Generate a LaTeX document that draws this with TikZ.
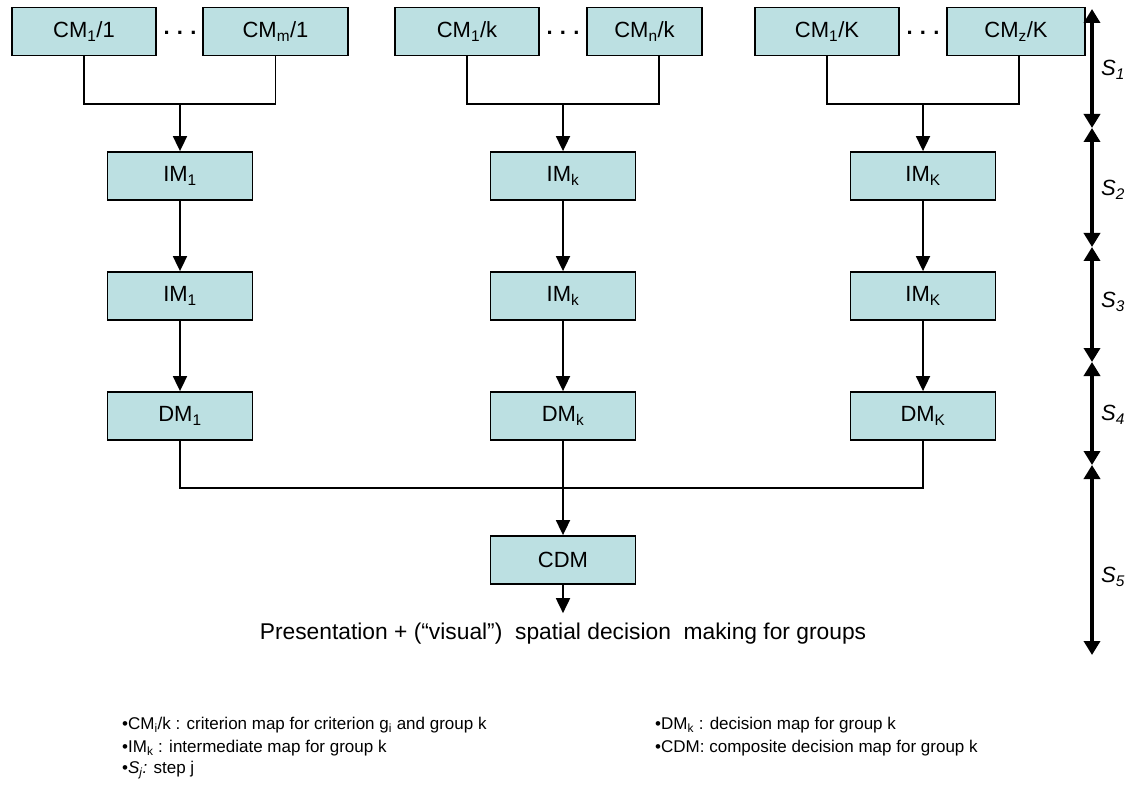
\documentclass[tikz,border=0pt]{standalone}
\usepackage{fontspec}
\setmainfont{Liberation Sans}
\usetikzlibrary{arrows.meta,calc}
\definecolor{boxfill}{RGB}{188,224,226}
\begin{document}
\begin{tikzpicture}[x=1pt,y=-1pt,
  mapbox/.style={draw=black,fill=boxfill,line width=1.8pt,inner sep=0pt,minimum height=48pt,font=\fontsize{22}{26}\selectfont},
  conn/.style={line width=1.8pt},
  flow/.style={line width=1.8pt,-{Triangle[width=14pt,length=15pt]}},
  stepar/.style={line width=4.5pt,{Triangle[width=16pt,length=14pt]}-{Triangle[width=16pt,length=14pt]}},
  dots/.style={font=\fontsize{22}{26}\selectfont\bfseries,inner sep=0pt},
  steplbl/.style={anchor=west,font=\fontsize{22}{26}\selectfont\itshape,inner sep=0pt},
  legend/.style={anchor=west,font=\fontsize{17}{20}\selectfont,inner sep=0pt}
]
\useasboundingbox (0,0) rectangle (1126,791);

% top row
\node[mapbox,minimum width=144pt] (c11) at (84,31.5) {CM\textsubscript{1}/1};
\node[mapbox,minimum width=145pt] (c1m) at (275.5,31.5) {CM\textsubscript{m}/1};
\node[mapbox,minimum width=144pt] (ck1) at (467,31.5) {CM\textsubscript{1}/k};
\node[mapbox,minimum width=115pt] (ckn) at (644.5,31.5) {CM\textsubscript{n}/k};
\node[mapbox,minimum width=144pt] (cK1) at (827,31.5) {CM\textsubscript{1}/K};
\node[mapbox,minimum width=138pt] (cKz) at (1016,31.5) {CM\textsubscript{z}/K};
\node[dots] (d1) at (180,33) {.\,\,.\,\,.};
\node[dots] (d2) at (563,33) {.\,\,.\,\,.};
\node[dots] (d3) at (923,33) {.\,\,.\,\,.};

% intermediate rows
\node[mapbox,minimum width=145pt] (im1a) at (180,176) {IM\textsubscript{1}};
\node[mapbox,minimum width=145pt] (imka) at (563,176) {IM\textsubscript{k}};
\node[mapbox,minimum width=145pt] (imKa) at (923,176) {IM\textsubscript{K}};
\node[mapbox,minimum width=145pt] (im1b) at (180,296) {IM\textsubscript{1}};
\node[mapbox,minimum width=145pt] (imkb) at (563,296) {IM\textsubscript{k}};
\node[mapbox,minimum width=145pt] (imKb) at (923,296) {IM\textsubscript{K}};
\node[mapbox,minimum width=145pt] (dm1) at (180,416) {DM\textsubscript{1}};
\node[mapbox,minimum width=145pt] (dmk) at (563,416) {DM\textsubscript{k}};
\node[mapbox,minimum width=145pt] (dmK) at (923,416) {DM\textsubscript{K}};
\node[mapbox,minimum width=145pt] (cdm) at (563,560) {CDM};
\node[inner sep=0pt,font=\fontsize{22.8}{27}\selectfont] (out) at (563,634) {Presentation + (“visual”)\ \ spatial decision\ \ making for groups};

% connector junction coordinates
\coordinate (ckndrop) at (659,56);
\coordinate (cKzdrop) at (1019,56);
\coordinate (bus1) at (180,104);
\coordinate (busk) at (563,104);
\coordinate (busK) at (923,104);

% group 1
\draw[conn] (c11.south) |- (bus1) -| (c1m.south);
\draw[flow] (bus1) -- (im1a.north);
% group k
\draw[conn] (ck1.south) |- (busk) -| (ckndrop);
\draw[flow] (busk) -- (imka.north);
% group K
\draw[conn] (cK1.south) |- (busK) -| (cKzdrop);
\draw[flow] (busK) -- (imKa.north);

\draw[flow] (im1a) -- (im1b);
\draw[flow] (imka) -- (imkb);
\draw[flow] (imKa) -- (imKb);
\draw[flow] (im1b) -- (dm1);
\draw[flow] (imkb) -- (dmk);
\draw[flow] (imKb) -- (dmK);

\draw[conn] (dm1.south) |- (dmK.south |- 0,488) -- (dmK.south);
\draw[flow] (dmk.south) -- (cdm.north);
\draw[flow,shorten >=10pt] (cdm.south) -- (out.north);

% step arrows
\coordinate (s0) at (1092,9);
\coordinate (s1) at (1092,128);
\coordinate (s2) at (1092,247);
\coordinate (s3) at (1092,362);
\coordinate (s4) at (1092,465);
\coordinate (s5) at (1092,655);
\draw[stepar] (s0) -- (s1);
\draw[stepar] (s1) -- (s2);
\draw[stepar] (s2) -- (s3);
\draw[stepar] (s3) -- (s4);
\draw[stepar] (s4) -- (s5);
\node[steplbl] (l1) at (1101,70) {S\textsubscript{1}};
\node[steplbl] (l2) at (1101,190) {S\textsubscript{2}};
\node[steplbl] (l3) at (1101,302) {S\textsubscript{3}};
\node[steplbl] (l4) at (1101,415) {S\textsubscript{4}};
\node[steplbl] (l5) at (1101,577) {S\textsubscript{5}};

% legend
\node[legend] (g1) at (122,725) {•CM\textsubscript{i}/k : criterion map for criterion g\textsubscript{i} and group k};
\node[legend] (g2) at (122,748) {•IM\textsubscript{k} : intermediate map for group k};
\node[legend] (g3) at (122,770) {•\textit{S\textsubscript{j}:} step j};
\node[legend] (g4) at (655,725) {•DM\textsubscript{k} : decision map for group k};
\node[legend] (g5) at (655,748) {•CDM: composite decision map for group k};
\end{tikzpicture}
\end{document}
